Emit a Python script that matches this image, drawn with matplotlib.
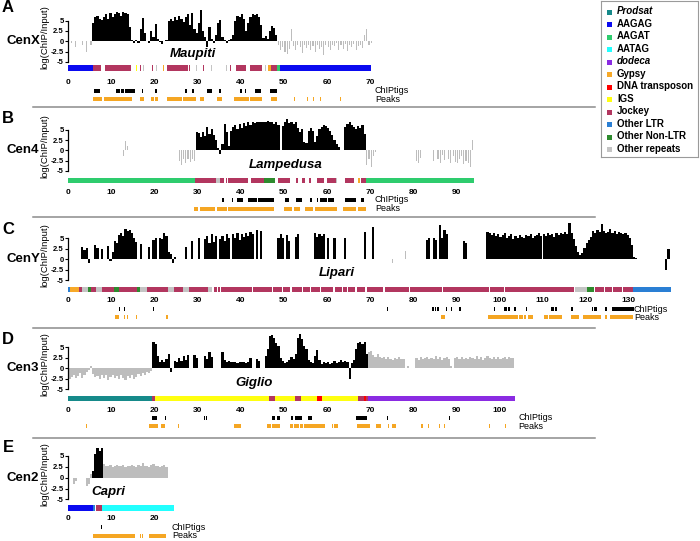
import numpy as np
import matplotlib.pyplot as plt
from matplotlib.patches import Rectangle
from matplotlib.lines import Line2D

plt.rcParams['font.family'] = ['Liberation Sans', 'DejaVu Sans']

W, H = 700, 541
X0, PX = 68.4, 4.31          # pixel of 0 kb, pixels per kb
XMAX = 145

# repeat classes (legend order)
repeat_names = ['Prodsat', 'AAGAG', 'AAGAT', 'AATAG', 'dodeca', 'Gypsy', 'DNA transposon',
                'IGS', 'Jockey', 'Other LTR', 'Other Non-LTR', 'Other repeats']
repeat_colors = ['#168a8a', '#0a0af0', '#2ecc6e', '#22ffff', '#8a2be2', '#f7a928', '#ff0000',
                 '#ffff10', '#b2365f', '#2a7fd4', '#2e8b2e', '#c4c4c4']
col = dict(zip(repeat_names, repeat_colors))
italic_names = ['Prodsat', 'dodeca']

# ---------------- CenX / Maupiti ----------------
a_signal = [
    0, -0.5, 0, -1.5, 0, 0, -1.0, 0, -2.5, 0, -1.0,
    4.5, 5.8, 6.2, 5.5, 5.2, 5.8, 6.5, 5.5, 6.8, 6.0,
    6.6, 7.0, 6.8, 6.2, 7.0, 6.9, 6.5, 3.5, 0.3, -0.5,
    0.2, -0.3, 3.0, 5.6, 2.0, 0, -0.3, 2.5, 1.0, 4.2,
    0.5, -0.2, -0.6, 0, 0.3, 4.8, 5.5, 5.0, 5.8, 5.2,
    6.2, 5.5, 4.6, 5.8, 6.5, 4.0, 6.8, 3.0, 2.0, 4.5,
    7.5, 2.5, 1.0, -1.5, 3.5, 0.5, -0.5, 1.5, 4.5, 5.2,
    1.0, 0.2, -0.4, 0.3, 0.5, 1.5, 5.0, 6.2, 5.8, 6.5,
    5.4, 2.5, 4.5, 6.0, 6.5, 6.3, 6.6, 6.0, 4.0, 0.8,
    1.2, 0.5, 2.5, 3.8, 3.2, 1.5,
    -1.0, -2.0, -1.5, -2.5, -3.0, -1.8, 3.0, -1.2, -2.2, -1.0,
    -1.5, -2.8, -1.0, -1.6, -0.8, -2.0, -1.2, -2.6, -1.0, -1.8,
    -1.4, -3.2, -1.0, -1.5, -2.2, -0.8, -1.2, -0.5, -2.0, -1.0,
    -1.8, -0.6, -2.4, -1.0, -1.5, -0.7, -2.0, -1.2, -0.8, -1.6,
    1.5, 3.0, -1.0, -0.5,
]
a_black = [(5.5, 48.5)]
a_repeats = [
    (0, 5.7, 'AAGAG'), (5.7, 7.6, 'Jockey'), (8.5, 14.2, 'Jockey'), (14.3, 14.5, 'Jockey'),
    (14.7, 14.85, 'Other repeats'), (15.8, 15.95, 'IGS'), (16.6, 16.75, 'Jockey'),
    (17.4, 17.5, 'Other repeats'), (19.5, 19.65, 'Jockey'), (20.3, 20.45, 'Other repeats'),
    (21.2, 21.35, 'Jockey'), (22.0, 22.1, 'Gypsy'), (22.9, 27.5, 'Jockey'), (27.6, 27.8, 'Jockey'),
    (28.0, 28.15, 'Jockey'), (28.8, 28.9, 'IGS'), (29.6, 29.75, 'Other repeats'), (30.5, 30.6, 'Gypsy'),
    (31.3, 31.45, 'Jockey'), (33.2, 33.35, 'Other repeats'), (34.6, 34.75, 'Jockey'),
    (35.4, 35.5, 'Jockey'), (36.6, 36.75, 'Other repeats'), (37.6, 37.75, 'Jockey'),
    (38.8, 41.2, 'Jockey'), (42.2, 45.0, 'Jockey'), (45.6, 45.75, 'Other repeats'),
    (46.4, 46.9, 'Gypsy'), (46.9, 48.4, 'Jockey'), (48.4, 49.2, 'AAGAT'), (49.2, 70.2, 'AAGAG'),
]
a_chiptigs = [(6.0, 7.4), (11.1, 12.0), (12.2, 12.8), (13.2, 15.5), (17.1, 17.4), (20.2, 20.5),
              (27.1, 27.5), (28.7, 29.1), (32.2, 33.3), (34.9, 35.3), (39.8, 40.2), (40.9, 41.3),
              (43.4, 44.6), (46.7, 48.4)]
a_peaks = [(5.7, 7.8), (8.3, 14.7), (16.7, 17.6), (19.1, 19.8), (20.0, 20.7), (22.9, 26.4),
           (26.7, 29.5), (30.6, 31.4), (34.5, 35.7), (38.4, 41.9), (42.1, 45.0), (47.1, 48.3),
           (52.3, 52.5), (55.3, 55.5), (56.8, 57.0), (58.4, 58.6), (63.0, 63.3), (69.4, 69.6)]

# ---------------- Cen4 / Lampedusa ----------------
b_signal = [
    0, 0, 0, 0, 0, 0, 0, 0, 0, 0,
    0, 0, 0, 0, 0, 0, 0, 0, 0, 0,
    0, 0, 0, 0,
    0, -1.5, 2.2, 1.0,
    0, 0, 0, 0, 0, 0, 0, 0, 0, 0,
    0, 0, 0, 0, 0, 0, 0, 0, 0, 0,
    0, 0, 0,
    -2.5, -3.5, -2.0, -3.0, -2.2, -2.8, -2.0, -2.5,
    4.5, 4.3, 3.2, 4.4, 3.5, 5.6, 4.0, 5.2, 3.8, 2.5,
    0.5, -1.0, 1.5, 6.5, 4.5, 1.0, 4.8, 5.6, 6.2, 5.2,
    6.4, 5.5, 6.6, 6.0, 6.8, 6.2, 6.9, 6.7, 7.0, 6.8,
    6.9, 7.0, 6.8, 7.1, 6.9, 7.0, 6.5, 6.8, 6.2, 0,
    6.0, 6.8, 7.6, 6.6, 7.0, 6.5, 6.9, 5.5, 4.5, 5.2,
    2.0, 1.8, 4.6, 5.5, 4.8, 2.0, 3.5, 5.2, 5.8, 6.2,
    6.0, 5.5, 4.6, 3.8, 2.5, 1.6, 0.8, 0, 0, 5.6,
    6.3, 6.8, 6.2, 5.8, 5.2, 6.0, 5.4, 6.2, 4.0,
    -3.5, -2.0, -4.0, -1.5, -0.5,
    0, 0, 0, 0, 0, 0, 0, 0, 0, 0, 0, 0, 0, 0, 0, 0, 0, 0,
    -2.5, -3.2, -1.8, 0, 0, 0, 0, 0, -2.6, 0,
    -2.0, -3.0, -1.2, -2.4, 0, -2.2, -3.2, -1.5, -2.8, -3.0,
    -2.0, -1.5, -3.4, -2.5, -3.0, -4.0, 2.4,
]
b_black = [(29.5, 69.0)]
b_repeats = [
    (0, 29.4, 'AAGAT'), (29.4, 34.2, 'Jockey'), (34.2, 35.2, 'Other repeats'), (35.2, 36.1, 'Jockey'),
    (36.5, 36.7, 'Jockey'), (37.1, 41.6, 'Jockey'), (42.3, 45.3, 'Jockey'), (45.3, 47.9, 'Other Non-LTR'),
    (48.6, 51.5, 'Jockey'), (52.7, 53.2, 'Jockey'), (54.2, 54.8, 'Jockey'), (55.8, 56.3, 'Jockey'),
    (57.6, 59.4, 'Jockey'), (60.0, 62.0, 'Jockey'), (62.1, 62.3, 'Other repeats'), (64.1, 66.3, 'Jockey'),
    (67.3, 67.6, 'Gypsy'), (67.8, 69.0, 'Jockey'), (69.0, 94.1, 'AAGAT'),
]
b_chiptigs = [(35.6, 36.2), (37.9, 38.2), (39.2, 40.5), (41.6, 43.8), (44.1, 47.6), (50.2, 51.1),
              (52.7, 54.2), (56.0, 56.6), (57.6, 58.0), (58.3, 60.1), (60.2, 61.6), (64.1, 66.7),
              (68.0, 68.6)]
b_peaks = [(29.1, 30.1), (30.5, 34.0), (34.4, 36.8), (37.1, 47.6), (50.0, 51.9), (52.3, 53.7),
           (54.8, 56.8), (57.1, 62.4), (63.6, 66.7), (67.2, 69.0)]

# ---------------- CenY / Lipari ----------------
c_signal = [
    0, 0, 0, 0, 0, 0, 3.0, 2.2, 2.8, -0.8,
    0, 0, 3.5, 2.6, 0, 2.5, 0, 0, 3.2, -0.5,
    1.8, 4.5, 3.8, 5.8, 6.2, 5.5, 7.2, 6.8, 7.0, 6.2,
    5.0, 4.2, 0, 3.6, 0, 0, 0, 3.0, 0, 4.6,
    5.0, 0, 5.2, 4.8, 6.2, 5.5, 1.8, 1.2, -1.0, 0.5,
    0, 0, 0, 0, 3.0, 0, 0, 4.5, 0, 0,
    5.0, 0, 0, 4.8, 5.5, 3.8, 6.0, 4.2, 5.6, 0,
    4.8, 5.6, 4.4, 6.0, 5.2, 0, 6.0, 5.0, 6.2, 4.6,
    6.0, 5.4, 6.3, 5.6, 6.6, 6.0, 0, 7.0, 0, 6.8,
    0, 0, 0, 0, 0, 0, 0, 5.0, 6.0, 5.2,
    0, 5.8, 4.4, 0, 0, 5.4, 6.0, 0, 0, 0,
    0, 0, 0, 0, 6.2, 5.4, 6.0, 5.6, 6.0, 0,
    5.0, 0, 0, 5.0, 0, 0, 0, 0, 5.2, 0,
    0, 0, 0, 0, 0, 0, 0, 6.5, 0, 0,
    0, 7.8, 0, 0, 0, 0, 0, 0, 0, 0,
    -0.8, 0, 0, 0, 0, 0, 2.0, 0, 0, 0,
    0, 0, 0, 0, 0, 0, 4.6, 5.0, 0, 5.2,
    4.6, 0, 8.2, 5.0, 7.0, 6.0, 0, 0, 0, 0,
    0, 0, 0, 4.4, 3.8, 0, 0, 0, 0, 0,
    0, 0, 0, 0, 6.5, 6.4, 5.8, 6.2, 5.6, 6.0,
    5.4, 5.8, 6.2, 5.2, 5.6, 6.0, 4.8, 5.6, 5.2, 5.9,
    5.4, 5.0, 5.8, 5.5, 6.0, 5.2, 5.6, 5.8, 6.4, 5.6,
    6.0, 5.5, 6.2, 5.8, 6.0, 5.4, 6.3, 5.9, 6.4, 6.0,
    6.5, 6.1, 8.6, 6.2, 4.8, 3.2, 1.8, 1.0, 1.6, 2.8,
    4.0, 4.6, 5.4, 6.8, 6.4, 7.0, 6.6, 8.4, 6.8, 6.2,
    6.6, 7.2, 6.4, 6.8, 6.0, 6.6, 6.2, 6.0, 6.4, 5.8,
    5.2, 3.5, 0.5, 0.4, 0, 0, 0, 0, 0, 0,
    0, 0, 0, 0, 0, 0, 0, -2.5, 2.5, 0,
]
c_black = [(0, 74.8), (79.0, 140.0)]
J = 'Jockey'
c_repeats = [
    (0, 0.3, 'Other LTR'), (0.3, 2.5, 'Gypsy'), (2.5, 3.2, J), (3.2, 4.6, 'Other repeats'),
    (4.6, 5.3, 'Other Non-LTR'), (5.3, 6.3, J), (6.3, 7.9, 'Other repeats'), (7.9, 10.6, J),
    (10.6, 11.8, 'Other Non-LTR'), (11.8, 16.0, J), (16.0, 16.6, 'Other Non-LTR'),
    (16.6, 18.3, 'Other repeats'), (18.3, 23.0, J), (23.0, 24.4, 'Other repeats'), (24.4, 26.5, J),
    (26.5, 28.0, 'Other repeats'), (28.0, 32.3, J), (32.3, 33.4, 'Other repeats'), (33.8, 34.4, J),
    (34.6, 35.2, J), (35.4, 42.6, J), (42.9, 47.2, J), (47.5, 49.5, J), (49.8, 51.5, J), (51.8, 54.2, J),
    (54.5, 56.1, J), (56.4, 58.4, J), (58.7, 61.5, J), (61.8, 63.5, J), (63.8, 64.6, J), (64.9, 66.6, J),
    (66.9, 68.9, J), (69.2, 73.1, J), (73.4, 79.0, J), (79.3, 86.7, J), (87.0, 97.5, J), (97.8, 101.0, J),
    (101.3, 117.2, J), (117.5, 120.4, 'Other repeats'), (120.4, 122.0, 'Other Non-LTR'),
    (122.2, 124.2, J), (124.5, 126.1, J), (126.4, 128.4, J), (128.7, 131.1, J),
    (131.1, 138.8, 'Other LTR'), (139.0, 139.8, 'Other LTR'),
]
c_chiptigs = [(11.8, 12.0), (12.8, 13.1), (19.6, 19.9), (74.0, 74.15), (74.8, 74.95), (84.4, 84.8),
              (85.0, 85.2), (85.6, 86.0), (87.5, 87.9), (88.7, 88.9), (90.6, 91.0), (98.8, 99.0),
              (101.1, 101.7), (102.0, 102.4), (103.5, 103.8), (106.1, 106.5), (111.9, 112.7),
              (112.8, 113.3), (116.7, 117.1), (121.4, 121.8), (122.0, 122.7), (124.6, 125.0),
              (126.2, 128.8), (129.0, 131.2)]
c_peaks = [(10.8, 11.8), (12.8, 13.1), (13.5, 13.8), (15.6, 16.0), (22.6, 23.0), (86.5, 87.3),
           (88.9, 89.1), (97.3, 104.3), (104.6, 105.4), (105.7, 106.2), (106.6, 107.8),
           (110.4, 111.2), (111.5, 114.6), (116.5, 118.5), (119.3, 123.5), (124.4, 125.0),
           (125.7, 131.1)]

# ---------------- Cen3 / Giglio ----------------
d_signal = [
    -2.6, -2.0, -1.5, -2.2, -1.8, -1.2, -2.4, -1.6, -1.0, -0.4,
    0.5, -1.4, -2.0, -1.8, -2.6, -1.5, -2.2, -1.7, -2.8, -2.0,
    -1.6, -2.4, -1.9, -2.6, -1.5, -2.2, -2.9, -1.8, -2.3, -1.6,
    -2.5, -2.0, -1.4, -1.8, -1.2, -1.6, -0.9, -1.2, -0.6,
    6.2, 5.8, 3.0, 1.6, 2.0, 1.5, 2.2, 3.4, -1.0, 0,
    1.8, 1.5, 2.4, 1.8, 3.0, 2.0, 3.2, 0, 0, 3.2,
    2.4, 0, 0, 0, 3.0, 2.2, 3.8, 2.8, 0, 0,
    0, 0, 3.8, 2.0, 1.5, 1.7, 1.4, 1.6, 1.5, 1.3,
    1.6, 1.4, 1.5, 1.2, 1.4, 2.4, 0, 0, 2.2, 1.8,
    0, 0, 3.0, 4.5, 7.6, 8.0, 7.2, 6.0, 5.2, 2.4,
    1.8, 1.2, 1.5, 2.0, 2.8, 2.2, 3.5, 7.2, 8.2, 7.0,
    5.2, 4.6, 2.0, 1.5, 1.2, 3.0, 4.4, 2.0, 1.0, 1.4,
    1.2, 1.6, 1.0, 1.3, 1.8, 1.2, 1.6, 2.0, 1.4, 1.8,
    1.5, -2.5, 1.2, 2.0, 4.5, 6.0, 6.3, 5.8, 6.2, 3.5,
    3.8, 4.2, 3.2, 2.8, 3.5, 2.6, 2.4, 2.8, 2.2, 2.6,
    2.3, 2.0, 2.4, 2.2, 2.6, 2.1, 2.3, 0, 0.5, 0,
    0, 0, 2.4, 2.0, 2.6, 2.2, 2.4, 2.8, 2.1, 2.5,
    2.3, 3.0, 2.2, 2.6, 2.0, 2.5, 2.7, 2.2, 0.5, 0,
    2.4, 2.6, 2.2, 2.8, 2.3, 2.5, 2.1, 2.7, 2.4, 2.2,
    2.9, 2.3, 2.6, 2.0, 2.5, 3.0, 2.4, 2.2, 2.7, 2.3,
    2.6, 2.1, 2.5, 2.8, 2.2, 2.6, 2.4, 2.5,
]
d_black = [(19.5, 69.5)]
d_repeats = [
    (0, 19.3, 'Prodsat'), (19.3, 20.2, 'Jockey'), (20.2, 46.5, 'IGS'), (46.5, 48.0, 'Jockey'),
    (48.0, 52.5, 'IGS'), (52.5, 54.0, 'Jockey'), (54.0, 57.6, 'IGS'), (57.6, 58.8, 'DNA transposon'),
    (58.8, 67.1, 'IGS'), (67.1, 68.6, 'Jockey'), (68.6, 69.0, 'DNA transposon'), (69.0, 69.6, 'Jockey'),
    (69.6, 103.7, 'dodeca'),
]
d_chiptigs = [(19.3, 20.5), (22.3, 22.6), (31.5, 31.7), (31.9, 32.1), (47.2, 48.0), (48.5, 49.0),
              (51.7, 52.0), (52.6, 53.4), (53.6, 54.1), (55.7, 56.5), (66.8, 69.3), (73.9, 74.1),
              (88.3, 88.5)]
d_peaks = [(4.1, 4.4), (18.6, 20.9), (21.5, 22.3), (25.5, 25.7), (38.5, 40.0), (46.0, 46.9),
           (47.2, 49.1), (51.3, 52.1), (52.4, 53.6), (53.8, 54.5), (54.6, 59.6), (61.1, 61.5),
           (61.7, 62.6), (66.9, 69.9), (71.3, 72.6), (74.1, 74.4), (75.1, 76.1), (81.9, 82.2),
           (83.5, 83.7), (86.0, 86.2), (87.1, 87.3), (97.5, 97.8), (101.4, 101.6)]

# ---------------- Cen2 / Capri ----------------
e_signal = [
    0, 0, -1.5, -0.8, 0, 0, 0, 0, -2.0, -1.5,
    0.8, 1.5, 5.5, 6.8, 6.2, 6.8, 3.2, 2.8, 2.6, 2.9,
    2.5, 2.8, 3.0, 2.6, 2.7, 2.9, 2.4, 2.8, 2.6, 3.0,
    2.7, 2.5, 2.9, 2.6, 3.4, 2.7, 2.8, 2.5, 2.9, 3.2,
    2.6, 2.8, 2.5, 2.7, 3.0, 2.4,
]
e_black = [(5.5, 8.0)]
e_repeats = [(0, 5.7, 'AAGAG'), (5.7, 6.2, 'Other LTR'), (6.5, 7.9, 'Jockey'), (7.9, 24.6, 'AATAG')]
e_chiptigs = [(7.5, 7.7)]
e_peaks = [(5.8, 15.5), (16.5, 16.8), (17.0, 17.3), (18.6, 22.7)]

panels = [
    dict(letter='A', cen='CenX', name='Maupiti', sig=a_signal, black=a_black, rep=a_repeats,
         chip=a_chiptigs, peaks=a_peaks, ticks=range(0, 71, 10), lab_kb=71.1),
    dict(letter='B', cen='Cen4', name='Lampedusa', sig=b_signal, black=b_black, rep=b_repeats,
         chip=b_chiptigs, peaks=b_peaks, ticks=range(0, 91, 10), lab_kb=71.1),
    dict(letter='C', cen='CenY', name='Lipari', sig=c_signal, black=c_black, rep=c_repeats,
         chip=c_chiptigs, peaks=c_peaks, ticks=range(0, 131, 10), lab_kb=131.2),
    dict(letter='D', cen='Cen3', name='Giglio', sig=d_signal, black=d_black, rep=d_repeats,
         chip=d_chiptigs, peaks=d_peaks, ticks=range(0, 101, 10), lab_kb=104.4),
    dict(letter='E', cen='Cen2', name='Capri', sig=e_signal, black=e_black, rep=e_repeats,
         chip=e_chiptigs, peaks=e_peaks, ticks=range(0, 21, 10), lab_kb=24.0),
]

# layout in pixels: zero line, px per unit, bar top/bottom, tick label y, chip row y, peak row y,
# letter y, species name (x, y), gray bar width factor
layout = [
    (41.3, 4.13, 65.0, 70.7, 81.7, 90.7, 99.3, 7.0, (192.5, 54.3), 0.5),
    (150.3, 4.10, 177.7, 183.3, 191.7, 200.0, 208.7, 118.5, (285.5, 165.0), 0.5),
    (259.3, 4.17, 286.7, 292.0, 300.0, 309.0, 317.3, 229.0, (337.0, 273.0), 0.5),
    (368.3, 4.20, 395.7, 401.0, 410.0, 417.7, 426.3, 339.0, (254.0, 383.0), 1.0),
    (477.7, 4.35, 505.0, 510.7, 518.7, 527.3, 535.7, 448.0, (108.7, 491.7), 1.0),
]
separators = [107.0, 217.3, 328.3, 438.3]

fig = plt.figure(figsize=(7, 5.41), dpi=100)


def rect(top, bot):
    return [X0 / W, 1 - bot / H, XMAX * PX / W, (bot - top) / H]


def fxy(x, y):
    return x / W, 1 - y / H


YTOP, YBOT = 9.0, -5.6
for p, (zero, s, btop, bbot, laby, chipy, peaky, lety, namexy, gw) in zip(panels, layout):
    # signal track
    ax = fig.add_axes(rect(zero - YTOP * s, zero - YBOT * s))
    sig = np.array(p['sig'], dtype=float)
    x = 0.25 + 0.5 * np.arange(len(sig))
    blk = np.zeros(len(sig), bool)
    for a, b in p['black']:
        blk |= (x > a) & (x < b)
    ax.bar(x[~blk], sig[~blk], width=0.5 * gw, color='#bdbdbd', linewidth=0)
    ax.bar(x[blk], sig[blk], width=0.5, color='black', linewidth=0)
    ax.set_xlim(0, XMAX)
    ax.set_ylim(YBOT, YTOP)
    ax.patch.set_visible(False)
    for side in ['top', 'right', 'bottom']:
        ax.spines[side].set_visible(False)
    ax.spines['left'].set_bounds(-5, 5)
    ax.spines['left'].set_linewidth(0.9)
    ax.set_xticks([])
    ax.set_yticks([5, 2.5, 0, -2.5, -5], ['5', '2.5', '0', '-2.5', '-5'],
                  fontsize=5.5, fontweight='bold')
    ax.tick_params(axis='y', length=2.5, width=0.8, pad=1)

    fig.text(*fxy(45, zero - 4), 'log(ChIP/Input)', rotation=90, ha='center', va='center',
             fontsize=6.8)
    fig.text(*fxy(23, zero), p['cen'], ha='center', va='center', fontsize=9.5, fontweight='bold')
    fig.text(*fxy(8, lety), p['letter'], ha='center', va='center', fontsize=12, fontweight='bold')
    fig.text(*fxy(*namexy), p['name'], ha='center', va='center', fontsize=9.5,
             fontweight='bold', fontstyle='italic')

    # repeat annotation bar
    bx = fig.add_axes(rect(btop, bbot))
    for name in repeat_names:
        segs = [(a, b - a) for a, b, n in p['rep'] if n == name]
        if segs:
            bx.broken_barh(segs, (0, 1), facecolors=col[name], linewidth=0)
    bx.set_xlim(0, XMAX)
    bx.set_ylim(0, 1)
    bx.set_yticks([])
    ticks = list(p['ticks'])
    bx.set_xticks(ticks, [str(t) for t in ticks], fontsize=6, fontweight='bold')
    bx.tick_params(axis='x', length=0, pad=(laby - 3.2 - bbot) * 0.72)
    for side in bx.spines.values():
        side.set_visible(False)
    bx.patch.set_visible(False)

    # ChIPtigs and peaks
    d = peaky - chipy
    rx = fig.add_axes(rect(chipy - 0.5 * d, peaky + 0.5 * d))
    h = 4.2 / d
    rx.broken_barh([(a, b - a) for a, b in p['chip']], (1 - h / 2, h), facecolors='black', linewidth=0)
    rx.broken_barh([(a, b - a) for a, b in p['peaks']], (-h / 2, h), facecolors='#f5a623', linewidth=0)
    rx.set_xlim(0, XMAX)
    rx.set_ylim(-0.5, 1.5)
    rx.axis('off')
    rx.text(p['lab_kb'], 1, 'ChIPtigs', va='center', ha='left', fontsize=6.5)
    rx.text(p['lab_kb'], 0, 'Peaks', va='center', ha='left', fontsize=6.5)

for y in separators:
    fig.add_artist(Line2D([33 / W, 595 / W], [1 - y / H, 1 - y / H], color='#8c8c8c', lw=1.1))

# legend box
lg = fig.add_axes([600.7 / W, 1 - 157 / H, 97.3 / W, 156.3 / H])
lg.set_xlim(0, 97.3)
lg.set_ylim(156.3, 0)
lg.set_xticks([])
lg.set_yticks([])
for side in lg.spines.values():
    side.set_color('#9a9a9a')
    side.set_linewidth(0.8)
for i, name in enumerate(repeat_names):
    yc = 10.5 + 12.5 * i
    lg.add_patch(Rectangle((6.0, yc - 1.5), 5, 5, facecolor=col[name], linewidth=0))
    lg.text(16.3, yc, name, va='center', ha='left', fontsize=7, fontweight='bold',
            fontstyle='italic' if name in italic_names else 'normal')

fig.savefig('out.png', dpi=100)
